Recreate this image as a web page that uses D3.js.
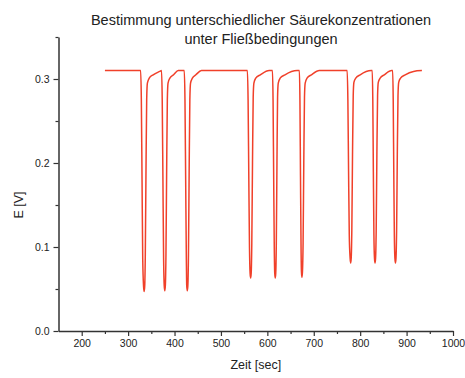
<!DOCTYPE html>
<html>
<head>
<meta charset="utf-8">
<script src="https://cdn.jsdelivr.net/npm/d3@7"></script>
<style>
  body { margin: 0; background: #fff; }
  text { font-family: "Liberation Sans", Arial, sans-serif; fill: #222; }
</style>
</head>
<body>
<div id="chart"></div>
<script>
const titleLines = ['Bestimmung unterschiedlicher Säurekonzentrationen', 'unter Fließbedingungen'];
const xLabel = 'Zeit [sec]';
const yLabel = 'E [V]';
const xTicks = [200, 300, 400, 500, 600, 700, 800, 900, 1000];
const yTicks = [0.0, 0.1, 0.2, 0.3];

const time = [
  250,
  327, 328.5, 330, 331.5, 333.3, 334.5, 335.7, 337, 338.5, 340, 341.5, 345.5, 354, 368,
  372, 373.5, 375, 376.5, 377.8, 379, 380.2, 381.5, 383, 384.5, 386, 390, 398, 408,
  421, 422.5, 424, 425.5, 426.3, 427.5, 428.7, 430, 431.5, 433, 434.5, 438.5, 446, 458,
  557, 558.5, 560, 561.5, 562.8, 564, 565.2, 566.5, 568, 569.5, 571, 575, 585, 604,
  611, 612.3, 613.6, 614.9, 615.9, 617, 618.1, 619.3, 620.7, 622, 623.5, 627.5, 638, 664,
  669, 670.2, 671.4, 672.6, 673.5, 674.5, 675.6, 677, 678.5, 680, 681.5, 685.5, 695, 712,
  772, 773.5, 775, 776.5, 778.3, 779.5, 780.7, 782, 783.5, 785, 786.5, 790.5, 800, 824,
  826, 827.2, 828.4, 829.6, 830.8, 832, 833.2, 834.5, 836, 837.5, 839, 843, 852, 868,
  870, 871.2, 872.4, 873.6, 874.8, 876, 877.2, 878.5, 880, 881.5, 883, 887, 897, 915, 933
];
const voltage = [
  0.31,
  0.31, 0.275, 0.18, 0.085, 0.053, 0.047, 0.053, 0.09, 0.19, 0.275, 0.295, 0.301, 0.305, 0.309,
  0.31, 0.275, 0.18, 0.085, 0.054, 0.048, 0.054, 0.09, 0.19, 0.275, 0.295, 0.301, 0.305, 0.31,
  0.31, 0.275, 0.18, 0.085, 0.054, 0.048, 0.054, 0.09, 0.19, 0.275, 0.295, 0.301, 0.305, 0.31,
  0.31, 0.275, 0.185, 0.1, 0.069, 0.063, 0.069, 0.105, 0.2, 0.278, 0.295, 0.301, 0.305, 0.31,
  0.31, 0.275, 0.185, 0.1, 0.069, 0.063, 0.069, 0.105, 0.2, 0.278, 0.295, 0.301, 0.305, 0.31,
  0.31, 0.275, 0.185, 0.1, 0.07, 0.064, 0.07, 0.105, 0.2, 0.278, 0.295, 0.301, 0.305, 0.31,
  0.31, 0.275, 0.19, 0.115, 0.087, 0.081, 0.087, 0.12, 0.21, 0.28, 0.296, 0.301, 0.305, 0.31,
  0.31, 0.275, 0.19, 0.115, 0.087, 0.081, 0.087, 0.12, 0.21, 0.28, 0.296, 0.301, 0.305, 0.31,
  0.31, 0.275, 0.19, 0.115, 0.087, 0.081, 0.087, 0.12, 0.21, 0.28, 0.296, 0.301, 0.305, 0.309, 0.31
];

const W = 465, H = 378;
const margin = {top: 37, right: 12, bottom: 47, left: 58.5};

const svg = d3.select('#chart')
  .append('svg')
    .attr('width', W)
    .attr('height', H);

const x = d3.scaleLinear()
  .domain([150, 1000])
  .range([margin.left, W - margin.right]);

const y = d3.scaleLinear()
  .domain([0, 0.35])
  .range([H - margin.bottom, margin.top]);

const styleTicks = (g) => {
  g.select('.domain').attr('stroke', '#333').attr('stroke-width', 1.5);
  g.selectAll('.tick line').attr('stroke', '#333').attr('stroke-width', 1.2);
  g.selectAll('.tick text')
    .style('font-size', '10.5px')
    .style('font-family', '"Liberation Sans", Arial, sans-serif')
    .attr('fill', '#222');
}

// x achse, kleine ticks
svg.append('g')
  .attr('transform', `translate(0,${H - margin.bottom})`)
  .call(d3.axisBottom(x).tickValues(d3.range(250, 1000, 100)).tickSize(3).tickFormat(''))
  .call(g => g.select('.domain').remove())
  .call(styleTicks);
svg.append('g')
  .attr('transform', `translate(0,${H - margin.bottom})`)
  .call(d3.axisBottom(x).tickValues(xTicks).tickSize(5).tickSizeOuter(0).tickPadding(4).tickFormat(d3.format('d')))
  .call(styleTicks);

// y achse
svg.append('g')
  .attr('transform', `translate(${margin.left},0)`)
  .call(d3.axisLeft(y).tickValues([0.05, 0.15, 0.25, 0.35]).tickSize(3).tickFormat(''))
  .call(g => g.select('.domain').remove())
  .call(styleTicks);
svg.append('g')
  .attr('transform', `translate(${margin.left},0)`)
  .call(d3.axisLeft(y).tickValues(yTicks).tickSize(5).tickSizeOuter(0).tickPadding(4).tickFormat(d3.format('.1f')))
  .call(styleTicks);

// kurve
const points = time.map((t, i) => [t, voltage[i]]);
svg.append('path')
  .datum(points)
  .attr('fill', 'none')
  .attr('stroke', '#f0402a')
  .attr('stroke-width', 1.5)
  .attr('stroke-linejoin', 'round')
  .attr('d', d3.line()
    .x(d => x(d[0]))
    .y(d => y(d[1]))
    .curve(d3.curveMonotoneX));

// titel
svg.append('text')
  .attr('x', 261)
  .attr('y', 25)
  .attr('text-anchor', 'middle')
  .style('font-size', '14.5px')
  .selectAll('tspan')
  .data(titleLines)
  .enter()
  .append('tspan')
    .attr('x', 261)
    .attr('dy', (d, i) => i === 0 ? 0 : 19)
    .text(d => d);

svg.append('text')
  .attr('x', x(575))
  .attr('y', 369)
  .attr('text-anchor', 'middle')
  .style('font-size', '12.5px')
  .text(xLabel);

svg.append('text')
  .attr('transform', `translate(23,${y(0.15)}) rotate(-90)`)
  .attr('text-anchor', 'middle')
  .style('font-size', '12.5px')
  .text(yLabel);
</script>
</body>
</html>
